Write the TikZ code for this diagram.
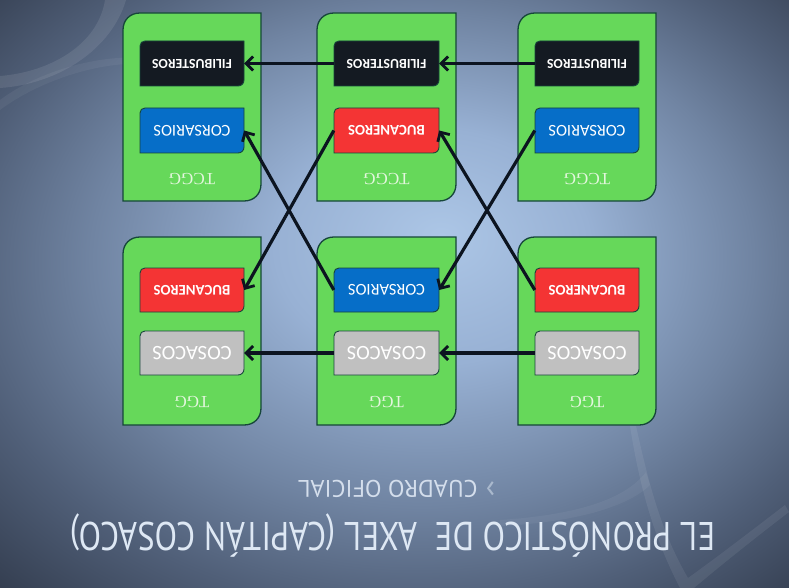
\documentclass[tikz,border=0pt]{standalone}
\usepackage{fontspec}
\usepackage{graphicx}
\setmainfont{Carlito}
\newfontfamily\serifx{Liberation Serif}
\newfontfamily\titlef{PT Sans}
\usetikzlibrary{arrows.meta}

\definecolor{pgreen}{RGB}{102,216,90}
\definecolor{pborder}{RGB}{22,70,58}
\definecolor{bblack}{RGB}{20,26,34}
\definecolor{bblue}{RGB}{6,110,200}
\definecolor{bred}{RGB}{244,52,52}
\definecolor{bgray}{RGB}{192,192,192}
\definecolor{arrowc}{RGB}{12,20,32}
\definecolor{bga}{RGB}{172,198,230}
\definecolor{bgb}{RGB}{152,177,212}
\definecolor{bgc}{RGB}{112,132,162}
\definecolor{bgd}{RGB}{80,95,120}
\definecolor{bge}{RGB}{52,62,80}
\definecolor{titlec}{RGB}{222,232,244}
\definecolor{subc}{RGB}{212,222,236}
\definecolor{chevc}{RGB}{170,185,205}
\definecolor{tcggc}{RGB}{228,246,222}

\pgfdeclareradialshading{bgshade}{\pgfpoint{3bp}{5bp}}{color(0bp)=(bga); color(10bp)=(bgb); color(21bp)=(bgc); color(29bp)=(bgd); color(37bp)=(bge); color(50bp)=(bge)}

\tikzset{
  panel/.style={fill=pgreen, draw=pborder, line width=1.3pt},
  ibox/.style={draw=pborder, line width=0.9pt},
  conn/.style={draw=arrowc, line width=3.2pt, -{Straight Barb[length=7pt,width=14pt,line width=2.8pt]}},
  lbl/.style={inner sep=0pt, text=white},
}

% panel: x1 y1 x2 y2 (y grows downwards)
\newcommand\panelx[4]{%
  \filldraw[panel] (#1,#4) -- (#1,#2+17) .. controls (#1,#2+7) and (#1+7,#2) .. (#1+17,#2)
    -- (#3,#2) -- (#3,#4-17) .. controls (#3,#4-7) and (#3-7,#4) .. (#3-17,#4) -- cycle;}

% inner box: name x1 y1 x2 y2 fill content
\newcommand\iboxx[7]{%
  \filldraw[ibox, fill=#6] (#2,#5) -- (#2,#3+5) .. controls (#2,#3+2) and (#2+2,#3) .. (#2+5,#3)
    -- (#4,#3) -- (#4,#5-6) .. controls (#4,#5-2.5) and (#4-2.5,#5) .. (#4-6,#5) -- cycle;
  \node[lbl, minimum width={(#4-#2)*1pt}, minimum height={(#5-#3)*1pt}] (#1) at ({(#2+#4)/2},{(#3+#5)/2}) {\rotatebox{180}{#7}};}

\newcommand\lfil{\fontsize{13.8}{15}\selectfont\bfseries FILIBUSTEROS}
\newcommand\lcor{\fontsize{16.5}{18}\selectfont CORSARIOS}
\newcommand\lbuc{\fontsize{14.8}{16}\selectfont\bfseries BUCANEROS}
\newcommand\lcos{\fontsize{20.5}{22}\selectfont COSACOS}
\newcommand\ttitle{\titlef\fontsize{40}{42}\selectfont EL PRONÓSTICO DE\ \ AXEL (CAPITÁN COSACO)}

\begin{document}
\begin{tikzpicture}[x=1pt,y=-1pt]
\useasboundingbox (0,0) rectangle (789,588);
\shade[shading=bgshade] (0,0) rectangle (789,588);
\begin{scope}
\clip (0,0) rectangle (789,588);
\fill[white, opacity=0.09] (105,0) .. controls (98,45) and (50,72) .. (0,76) -- (0,88) .. controls (60,84) and (112,48) .. (126,0) -- cycle;
\fill[white, opacity=0.05] (0,100) .. controls (40,70) and (100,55) .. (140,58) -- (140,64) .. controls (100,62) and (40,80) .. (0,110) -- cycle;
\fill[white, opacity=0.07] (636,426) .. controls (648,480) and (660,530) .. (688,578) .. controls (720,555) and (755,528) .. (785,505) -- (789,512) .. controls (755,538) and (720,566) .. (694,588) -- (680,588) .. controls (655,540) and (640,490) .. (630,426) -- cycle;
\fill[white, opacity=0.05] (646,472) .. controls (625,500) and (575,515) .. (500,520) -- (500,526) .. controls (580,522) and (630,505) .. (650,485) -- cycle;
\end{scope}

% panels
\panelx{123}{13}{261}{201}
\panelx{317}{13}{456}{201}
\panelx{518}{13}{656}{201}
\panelx{123}{237}{261}{425}
\panelx{317}{237}{456}{425}
\panelx{518}{237}{656}{425}

% inner boxes
\iboxx{a1}{140}{41}{244}{86}{bblack}{\lfil}
\iboxx{a2}{140}{108}{244}{153}{bblue}{\lcor}
\iboxx{b1}{334}{41}{439}{86}{bblack}{\lfil}
\iboxx{b2}{334}{108}{439}{153}{bred}{\lbuc}
\iboxx{c1}{535}{41}{639}{86}{bblack}{\lfil}
\iboxx{c2}{535}{108}{639}{153}{bblue}{\lcor}
\iboxx{d1}{140}{268}{244}{312}{bred}{\lbuc}
\iboxx{d2}{140}{331}{244}{375}{bgray}{\lcos}
\iboxx{e1}{334}{268}{439}{312}{bblue}{\lcor}
\iboxx{e2}{334}{331}{439}{375}{bgray}{\lcos}
\iboxx{f1}{535}{268}{639}{312}{bred}{\lbuc}
\iboxx{f2}{535}{331}{639}{375}{bgray}{\lcos}

% panel labels
\foreach \n/\x in {ta/192,tb/386.5,tc/587}{
  \node[inner sep=0, text=tcggc] (\n) at (\x,179) {\rotatebox{180}{\serifx\fontsize{17}{18}\selectfont TCGG}};}
\foreach \n/\x in {ua/192,ub/386.5,uc/587}{
  \node[inner sep=0, text=tcggc] (\n) at (\x,402) {\rotatebox{180}{\serifx\fontsize{17}{18}\selectfont TGG}};}

% connectors
\draw[conn] (c1.west) -- (b1.east);
\draw[conn] (b1.west) -- (a1.east);
\draw[conn] (f2.west) -- (e2.east);
\draw[conn] (e2.west) -- (d2.east);
\draw[conn] (e1.west) -- (a2.east);
\draw[conn] (b2.west) -- (d1.east);
\draw[conn] (f1.west) -- (b2.east);
\draw[conn] (c2.west) -- (e1.east);

% title and subtitle
\node[anchor=base, inner sep=0, text=titlec] (title) at (392.5,522) {\rotatebox{180}{\resizebox{645pt}{\height}{\ttitle}}};
\node[anchor=base, inner sep=0, text=subc] (sub) at (396.5,480) {\rotatebox{180}{\resizebox{197pt}{\height}{\titlef\fontsize{24}{26}\selectfont{\color{chevc}\scalebox{1.3}{›}}\hspace{8pt}CUADRO OFICIAL}}};
\end{tikzpicture}
\end{document}
